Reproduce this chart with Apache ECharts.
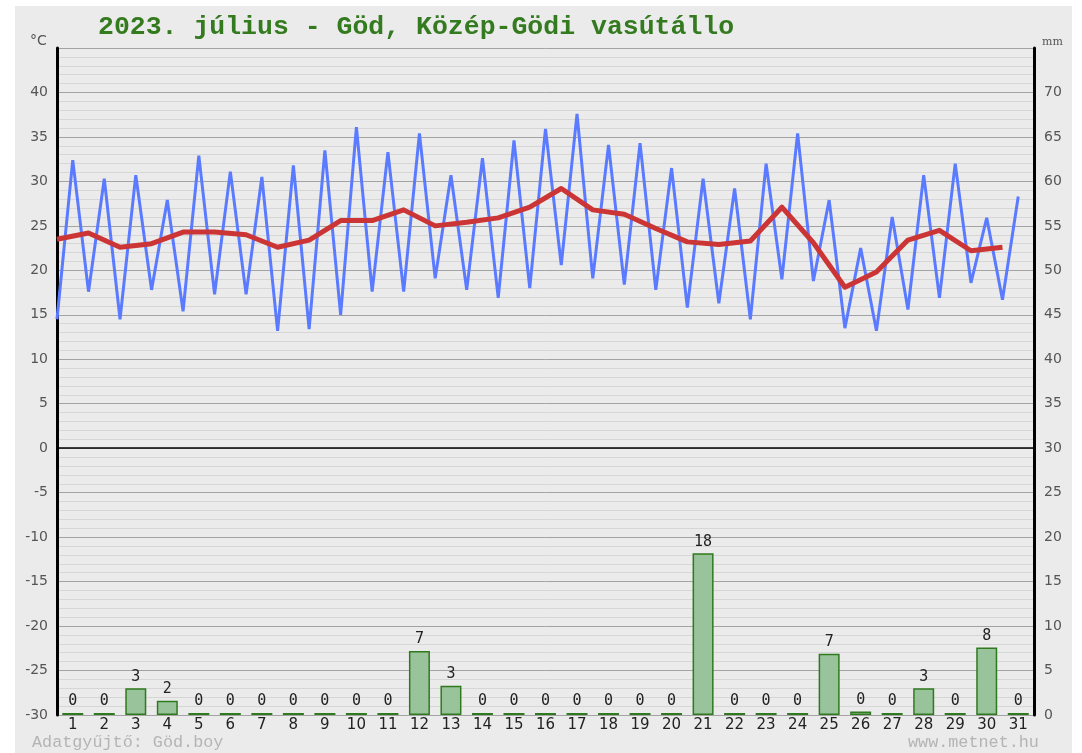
<!DOCTYPE html>
<html lang="hu">
<head>
<meta charset="utf-8" />
<title>2023. július - Göd</title>
<script src="https://cdn.jsdelivr.net/npm/echarts@6/dist/echarts.min.js"></script>
<style>
  body { margin: 0; background: #ffffff; }
  #panel { position: absolute; left: 15px; top: 6px; width: 1057px; height: 747px; background: #ebebeb; }
  #chart { position: absolute; left: 0; top: 0; width: 1082px; height: 753px; }
</style>
</head>
<body>
<div id="panel"></div>
<div id="chart"></div>
<script>
// napok
var days = [];
for (var d = 1; d <= 31; d++) days.push(String(d));

// napi minimum / maximum / átlag hőmérséklet (°C), leolvasva
var tmin = [14.5,17.6,14.5,17.8,15.4,17.3,17.3,13.2,13.4,15.0,17.6,17.6,19.1,17.8,16.9,18.0,
            20.6,19.1,18.4,17.8,15.8,16.3,14.5,19.0,18.8,13.5,13.2,15.6,16.9,18.6,16.7];
var tmax = [32.4,30.3,30.7,27.9,32.9,31.1,30.5,31.8,33.5,36.1,33.3,35.4,30.7,32.6,34.6,35.9,
            37.6,34.1,34.3,31.5,30.3,29.2,32.0,35.4,27.9,22.5,26.0,30.7,32.0,25.9,28.3];
var tavg = [23.5,24.2,22.6,23.0,24.3,24.3,24.0,22.6,23.4,25.6,25.6,26.8,25.0,25.4,25.9,27.1,
            29.2,26.8,26.3,24.7,23.2,22.9,23.3,27.1,23.1,18.1,19.8,23.4,24.5,22.2,22.6];
// csapadék (mm)
var rain = [0,0,3.0,1.6,0,0,0,0,0,0,0,7.2,3.3,0,0,0,0,0,0,0,18.2,0,0,0,6.9,0.4,0,3.0,0,7.6,0];

// hőmérséklet görbék: min a nap elején, max a nap közepén
var zigzag = [];
var avgLine = [];
for (var i = 0; i < days.length; i++) {
  zigzag.push([i, tmin[i]]);
  zigzag.push([i + 0.5, tmax[i]]);
  avgLine.push([i, tavg[i]]);
}

var chart = echarts.init(document.getElementById('chart'));
var option = {
  animation: false,
  grid: { left: 57, right: 48, top: 48, bottom: 38 },
  graphic: [
    { type: 'text', left: 98, top: 14,
      style: { text: '2023. július - Göd, Közép-Gödi vasútállo', fill: '#347a1f',
               font: 'bold 26.5px "Liberation Mono", monospace' } },
    { type: 'text', left: 30, top: 34,
      style: { text: '°C', fill: '#555', font: '14px "DejaVu Sans"' } },
    { type: 'text', left: 1042, top: 37,
      style: { text: 'mm', fill: '#555', font: '11px "DejaVu Serif"' } },
    { type: 'text', left: 32, top: 734,
      style: { text: 'Adatgyűjtő: Göd.boy', fill: '#b4b4b4', font: '16.8px "Liberation Mono", monospace' } },
    { type: 'text', left: 908, top: 734,
      style: { text: 'www.metnet.hu', fill: '#b4b4b4', font: '16.8px "Liberation Mono", monospace' } }
  ],
  xAxis: [
    { type: 'category', data: days, position: 'bottom',
      axisLine: { show: false }, axisTick: { show: false },
      axisLabel: { color: '#222', fontSize: 15, fontFamily: 'DejaVu Sans', margin: 3 } },
    { type: 'value', min: 0, max: 31, show: false }
  ],
  yAxis: [
    { type: 'value', min: -30, max: 45, interval: 5, position: 'left',
      axisLine: { show: true, lineStyle: { color: '#000', width: 3 } },
      axisTick: { show: false },
      axisLabel: { color: '#555', fontSize: 14, fontFamily: 'DejaVu Sans', margin: 9,
                   formatter: function (v) { return v === 45 ? '' : String(v); } },
      splitLine: { show: true, lineStyle: { color: '#a3a3a3', width: 1 } },
      minorTick: { show: false, splitNumber: 5 },
      minorSplitLine: { show: true, lineStyle: { color: '#d6d6d6', width: 1 } } },
    { type: 'value', min: 0, max: 75, interval: 5, position: 'right',
      axisLine: { show: true, lineStyle: { color: '#000', width: 3 } },
      axisTick: { show: false },
      axisLabel: { color: '#555', fontSize: 14, fontFamily: 'DejaVu Sans', margin: 10,
                   formatter: function (v) { return v === 75 ? '' : String(v); } },
      splitLine: { show: false } }
  ],
  series: [
    { name: 'csapadék', type: 'bar', xAxisIndex: 0, yAxisIndex: 1, data: rain,
      barWidth: 21, barMinHeight: 2,
      itemStyle: { color: '#99c39a', borderColor: '#2f7a1f', borderWidth: 1.5 },
      label: { show: true, position: 'top', distance: 4, color: '#222', fontSize: 15,
               fontFamily: 'DejaVu Sans Mono',
               formatter: function (p) { return String(Math.round(p.value)); } },
      markLine: { silent: true, symbol: 'none', label: { show: false },
                  lineStyle: { color: '#000', width: 1.5, type: 'solid' },
                  data: [{ yAxis: 30 }] } },
    { name: 'min/max', type: 'line', xAxisIndex: 1, yAxisIndex: 0, data: zigzag,
      symbol: 'none', lineStyle: { color: '#5a7bff', width: 3 } },
    { name: 'átlag', type: 'line', xAxisIndex: 1, yAxisIndex: 0, data: avgLine,
      symbol: 'none', lineStyle: { color: '#cc3535', width: 5, join: 'round' } }
  ]
};
chart.setOption(option);
</script>
</body>
</html>
